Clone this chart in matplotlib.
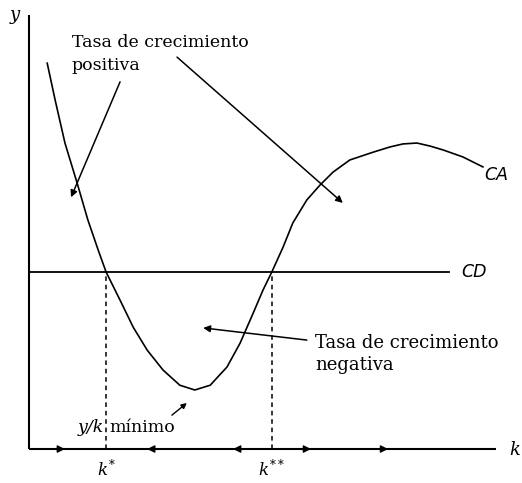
import matplotlib
matplotlib.use("Agg")
import matplotlib.pyplot as plt

# --- curve CA (saving curve) read along k ---
k_vals = [0.39, 0.56, 0.77, 1.03, 1.26, 1.48, 1.65, 1.95, 2.23, 2.53, 2.87,
          3.23, 3.55, 3.88, 4.24, 4.52, 4.80, 5.01, 5.20, 5.44, 5.65, 5.95,
          6.23, 6.51, 6.87, 7.37, 7.73, 8.01, 8.31, 8.59, 8.87, 9.29, 9.72]
ca_vals = [8.89, 8.04, 7.05, 6.13, 5.28, 4.59, 4.08, 3.43, 2.81, 2.28, 1.82,
           1.47, 1.36, 1.47, 1.89, 2.44, 3.13, 3.66, 4.08, 4.65, 5.21, 5.74,
           6.08, 6.38, 6.66, 6.84, 6.96, 7.03, 7.05, 6.98, 6.89, 6.73, 6.50]

CD_LEVEL = 4.08          # depreciation line
K_STAR = 1.65
K_STAR2 = 5.20
K_MAX = 10.0
Y_MAX = 10.0

# direction of motion of k along the axis (+1 right, -1 left)
flow_k = [0.77, 2.53, 4.37, 6.04, 7.69]
flow_dir = [1, -1, -1, 1, 1]

SERIF = "DejaVu Serif"
SANS = "DejaVu Sans"
plt.rcParams["mathtext.fontset"] = "dejavuserif"

fig = plt.figure(figsize=(5.22, 4.83), dpi=100)
ax = fig.add_axes([0, 0, 1, 1])
ax.set_xlim(-0.621, 10.557)
ax.set_ylim(-0.783, 10.346)
ax.axis("off")

# axes
ax.plot([0, 0], [0, Y_MAX], color="black", lw=1.5, solid_capstyle="butt")
ax.plot([0, K_MAX], [0, 0], color="black", lw=1.5, solid_capstyle="butt")

# CD line and CA curve
ax.plot([0, 9.0], [CD_LEVEL, CD_LEVEL], color="black", lw=1.3)
ax.plot(k_vals, ca_vals, color="black", lw=1.2, solid_joinstyle="round")

# steady states
for ks in (K_STAR, K_STAR2):
    ax.plot([ks, ks], [0, CD_LEVEL], color="black", lw=1.1,
            linestyle=(0, (3, 2.5)))

# flow arrows on the k axis
for kx, d in zip(flow_k, flow_dir):
    ax.annotate("", xy=(kx, 0), xytext=(kx - 0.05 * d, 0),
                arrowprops=dict(arrowstyle="-|>", color="black",
                                mutation_scale=11, lw=1.0,
                                shrinkA=0, shrinkB=0))

arrow_kw = dict(arrowstyle="-|>", color="black", mutation_scale=10, lw=1.1,
                shrinkA=0, shrinkB=0)

# positive growth label + arrows
ax.text(0.92, 9.26, "Tasa de crecimiento", family=SERIF, fontsize=12.5,
        ha="left", va="baseline")
ax.text(0.92, 8.73, "positiva", family=SERIF, fontsize=12.5,
        ha="left", va="baseline")
ax.annotate("", xy=(0.90, 5.80), xytext=(1.95, 8.46), arrowprops=arrow_kw)
ax.annotate("", xy=(6.72, 5.67), xytext=(3.17, 9.03), arrowprops=arrow_kw)

# negative growth label + arrow
ax.text(6.12, 2.33, "Tasa de crecimiento", family=SERIF, fontsize=13,
        ha="left", va="baseline")
ax.text(6.12, 1.82, "negativa", family=SERIF, fontsize=13,
        ha="left", va="baseline")
ax.annotate("", xy=(3.73, 2.79), xytext=(5.95, 2.51), arrowprops=arrow_kw)

# minimum of y/k
ax.text(1.05, 0.39, "y/k", family=SERIF, style="italic", fontsize=12.5,
        ha="left", va="baseline")
ax.text(1.73, 0.39, "mínimo", family=SERIF, fontsize=12.5,
        ha="left", va="baseline")
ax.annotate("", xy=(3.38, 1.06), xytext=(3.06, 0.78),
            arrowprops=dict(arrowstyle="-|>", color="black",
                            mutation_scale=8, lw=1.0, shrinkA=0, shrinkB=0))

# curve labels
ax.text(9.25, CD_LEVEL, "CD", family=SANS, style="italic", fontsize=12.5,
        ha="left", va="center")
ax.text(9.74, 6.31, "CA", family=SANS, style="italic", fontsize=12.5,
        ha="left", va="center")

# axis labels
ax.text(-0.30, 10.0, "y", family=SERIF, style="italic", fontsize=13,
        ha="center", va="center")
ax.text(10.39, -0.02, "k", family=SERIF, style="italic", fontsize=13,
        ha="center", va="center")
ax.text(K_STAR, -0.48, r"$k^{*}$", fontsize=12, ha="center", va="center")
ax.text(K_STAR2, -0.48, r"$k^{**}$", fontsize=12, ha="center", va="center")

fig.savefig("out.png", dpi=100, facecolor="white")
